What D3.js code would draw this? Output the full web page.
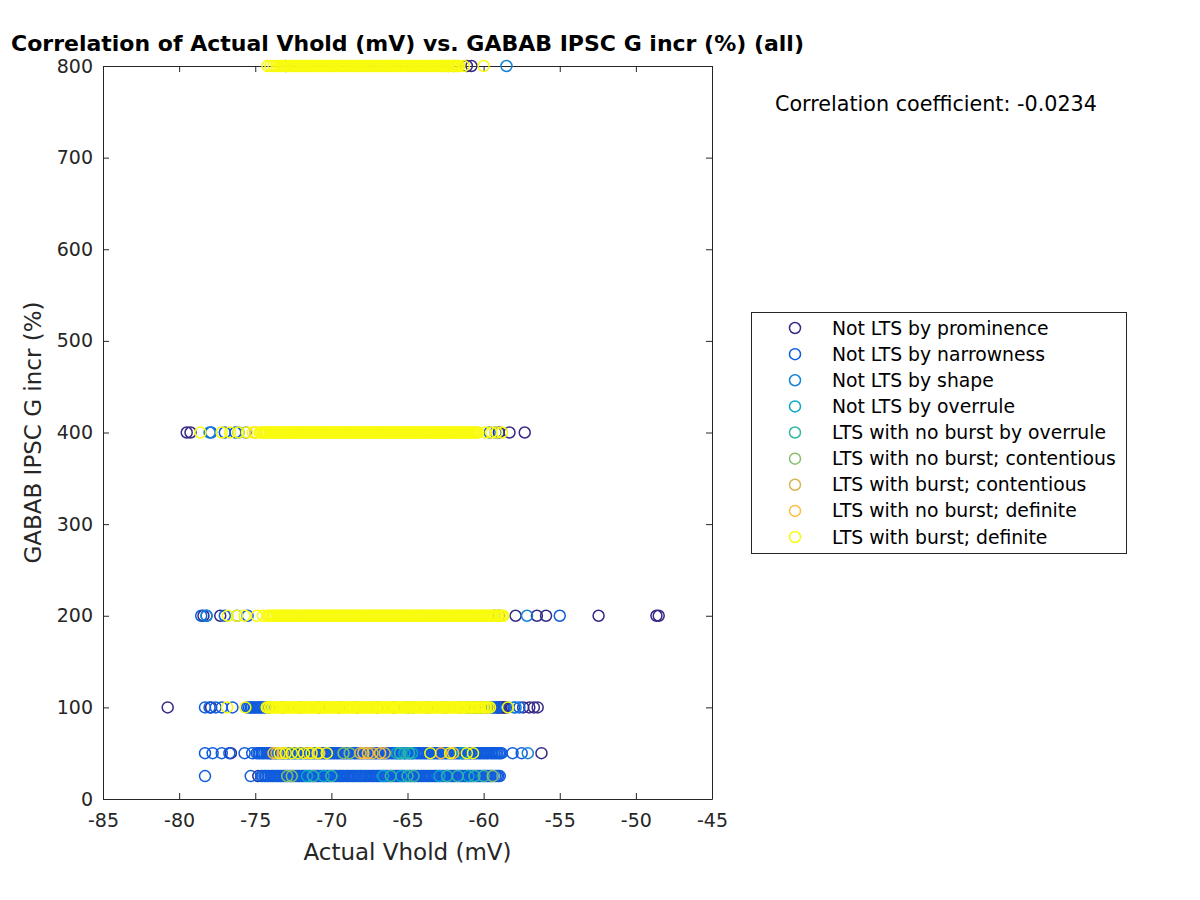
<!DOCTYPE html>
<html><head><meta charset="utf-8">
<script src="https://cdn.jsdelivr.net/npm/d3@7"></script>
<style>body{margin:0;background:#fff} svg{display:block} text{font-family:"DejaVu Sans",sans-serif}</style>
</head><body><svg id="c" width="1200" height="900"></svg>
<script>
const categories = ["Not LTS by prominence","Not LTS by narrowness","Not LTS by shape","Not LTS by overrule","LTS with no burst by overrule","LTS with no burst; contentious","LTS with burst; contentious","LTS with no burst; definite","LTS with burst; definite"];
const xTicks = [-85,-80,-75,-70,-65,-60,-55,-50,-45];
const yTicks = [0,100,200,300,400,500,600,700,800];
const titleText = "Correlation of Actual Vhold (mV) vs. GABAB IPSC G incr (%) (all)";
const corrText = "Correlation coefficient: -0.0234";

// each series: [G incr level (%), [Vhold values (mV)]]
const sProminence = [
 [800,[-61.1,-60.8]],
 [400,[-79.5,-79.25,-59.0,-58.3,-57.3]],
 [200,[-78.4,-77.3,-59.0,-57.9,-56.5,-55.9,-52.45,-48.65,-48.5]],
 [100,[-80.75,-77.9,-59.10,-59.00,-58.92,-58.83,-58.72,-58.64,-58.55,-57.4,-57.0,-56.7,-56.45]],
 [50,[-76.6,-74.0,-56.2]],
 [25,[-74.8]]
];
const sNarrowness = [
 [800,[-73.0]],
 [400,[-77.9,-77.0,-76.3,-75.6,-59.6,-59.2]],
 [200,[-78.55,-78.2,-77.0,-76.2,-75.5,-59.3,-55.0]],
 [100,[-78.3,-78.0,-77.6,-77.2,-76.5,-75.52,-75.41,-75.30,-75.22,-75.10,-75.01,-74.90,-74.78,-74.69,-74.60,-74.48,-74.40,-74.28,-74.17,-74.08,-73.2,-72.1,-70.8,-69.5,-68.3,-67.0,-65.9,-64.9,-63.7,-62.5,-61.6,-61.10,-60.98,-60.89,-60.77,-60.70,-60.58,-60.47,-60.39,-60.27,-60.18,-60.06,-59.97,-59.85,-59.76,-59.66,-59.54,-59.45,-59.33,-59.24,-59.12,-59.03,-58.0,-57.65]],
 [50,[-78.3,-77.8,-77.2,-76.7,-75.7,-75.2,
  -74.90,-74.79,-74.70,-74.58,-74.50,-74.40,-74.27,-74.18,-74.08,-73.97,-73.88,-73.76,-73.68,-73.58,-73.45,-73.36,-73.26,-73.15,-73.06,-72.94,-72.86,-72.76,-72.63,-72.54,-72.44,-72.33,-72.24,-72.12,-72.04,-71.94,-71.81,-71.72,-71.62,-71.51,-71.42,-71.30,-71.22,-71.12,-70.99,-70.90,-70.80,-70.69,-70.60,-70.48,-70.40,-70.30,-70.17,-70.08,-69.98,-69.87,-69.78,-69.66,-69.58,-69.48,-69.35,-69.26,-69.16,-69.05,-68.96,-68.84,-68.76,-68.66,-68.53,-68.44,-68.34,-68.23,-68.14,-68.02,-67.94,-67.84,-67.71,-67.62,-67.52,-67.41,-67.32,-67.20,-67.12,-67.02,-66.89,-66.80,-66.70,-66.59,-66.50,-66.38,-66.30,-66.20,-66.07,-65.98,-65.88,-65.77,-65.68,-65.56,-65.48,-65.38,-65.25,-65.16,-65.06,-64.95,-64.86,-64.74,-64.66,-64.56,-64.43,-64.34,-64.24,-64.13,-64.04,-63.92,-63.84,-63.74,-63.61,-63.52,-63.42,-63.31,-63.22,-63.10,-63.02,-62.92,-62.79,-62.70,-62.60,-62.49,-62.40,-62.28,-62.20,-62.10,-61.97,-61.88,-61.78,-61.67,-61.58,-61.46,-61.38,-61.28,-61.15,-61.06,-60.96,-60.85,-60.76,-60.64,-60.56,-60.46,-60.33,-60.24,-60.14,-60.03,-59.94,-59.82,-59.74,-59.64,-59.51,-59.42,-59.32,-59.21,-59.12,-59.00,-58.92,-58.82,
  -58.1,-57.5]],
 [25,[-78.3,-75.3,
  -74.62,-74.52,-74.40,-74.32,-74.21,-74.12,-73.99,-73.89,-73.80,-73.70,-73.58,-73.50,-73.39,-73.30,-73.17,-73.07,-72.98,-72.88,-72.76,-72.68,-72.57,-72.48,-72.35,-72.25,-72.16,-72.06,-71.94,-71.86,-71.75,-71.66,-71.53,-71.43,-71.34,-71.24,-71.12,-71.04,-70.93,-70.84,-70.71,-70.61,-70.52,-70.42,-70.30,-70.22,-70.11,-70.02,-69.89,-69.79,-69.70,-69.60,-69.48,-69.40,-69.29,-69.20,-69.07,-68.97,-68.88,-68.78,-68.66,-68.58,-68.47,-68.38,-68.25,-68.15,-68.06,-67.96,-67.84,-67.76,-67.65,-67.56,-67.43,-67.33,-67.24,-67.14,-67.02,-66.94,-66.83,-66.74,-66.61,-66.51,-66.42,-66.32,-66.20,-66.12,-66.01,-65.92,-65.79,-65.69,-65.60,-65.50,-65.38,-65.30,-65.19,-65.10,-64.97,-64.87,-64.78,-64.68,-64.56,-64.48,-64.37,-64.28,-64.15,-64.05,-63.96,-63.86,-63.74,-63.66,-63.55,-63.46,-63.33,-63.23,-63.14,-63.04,-62.92,-62.84,-62.73,-62.64,-62.51,-62.41,-62.32,-62.22,-62.10,-62.02,-61.91,-61.82,-61.69,-61.59,-61.50,-61.40,-61.28,-61.20,-61.09,-61.00,-60.87,-60.77,-60.68,-60.58,-60.46,-60.38,-60.27,-60.18,-60.05,-59.95,-59.86,-59.76,-59.64,-59.56,-59.45,-59.36,-59.23,-59.13,-59.04,-58.94]]
];
const sShape = [
 [800,[-58.5]],
 [400,[-78.0,-76.1]],
 [200,[-78.2,-57.15]],
 [100,[-58.4,-57.9]],
 [50,[-57.1]]
];
const sOverrule = [
 [100,[-65.0,-64.6]],
 [50,[-65.7,-65.2,-64.7,-61.4]],
 [25,[-71.6,-70.5,-66.6,-65.4,-62.9,-61.0]]
];
const sNoBurstOverrule = [
 [50,[-65.5,-64.9]],
 [25,[-71.2,-70.0,-66.1,-65.0,-64.6,-62.4,-61.7,-60.6,-60.0]]
];
const sNoBurstContentious = [
 [800,[-61.9]],
 [50,[-69.2,-68.8]],
 [25,[-72.9,-72.6,-59.4]]
];
const sBurstContentious = [
 [800,[-62.3]],
 [100,[-63.5]],
 [50,[-73.6,-68.1,-67.3,-66.5]]
];
const sNoBurstDefinite = [
 [800,[-62.6,-62.0,-61.7]],
 [400,[-75.0]],
 [100,[-62.6,-61.5,-60.8]],
 [50,[-73.8,-73.2,-71.5,-70.8,-67.9,-67.6,-66.8,-62.8,-62.0]]
];
const sBurstDefinite = [
 [800,[-74.2,-74.0,-73.8,-73.6,
  -73.40,-73.29,-73.20,-73.08,-73.00,-72.90,-72.77,-72.68,-72.58,-72.47,-72.38,-72.26,-72.18,-72.08,-71.95,-71.86,-71.76,-71.65,-71.56,-71.44,-71.36,-71.26,-71.13,-71.04,-70.94,-70.83,-70.74,-70.62,-70.54,-70.44,-70.31,-70.22,-70.12,-70.01,-69.92,-69.80,-69.72,-69.62,-69.49,-69.40,-69.30,-69.19,-69.10,-68.98,-68.90,-68.80,-68.67,-68.58,-68.48,-68.37,-68.28,-68.16,-68.08,-67.98,-67.85,-67.76,-67.66,-67.55,-67.46,-67.34,-67.26,-67.16,-67.03,-66.94,-66.84,-66.73,-66.64,-66.52,-66.44,-66.34,-66.21,-66.12,-66.02,-65.91,-65.82,-65.70,-65.62,-65.52,-65.39,-65.30,-65.20,-65.09,-65.00,-64.88,-64.80,-64.70,-64.57,-64.48,-64.38,-64.27,-64.18,-64.06,-63.98,-63.88,-63.75,-63.66,-63.56,-63.45,-63.36,-63.24,-63.16,-63.06,-62.93,-62.84,-62.74,-62.63,-62.54,-62.42,-62.34,-62.24,-62.11,-62.02,-61.92,-61.81,-61.72,-61.60,
  -61.3,-60.0]],
 [400,[-78.6,-77.2,-76.65,-76.1,-75.55,-75.15,
  -74.70,-74.60,-74.48,-74.40,-74.29,-74.20,-74.07,-73.97,-73.88,-73.78,-73.66,-73.58,-73.47,-73.38,-73.25,-73.15,-73.06,-72.96,-72.84,-72.76,-72.65,-72.56,-72.43,-72.33,-72.24,-72.14,-72.02,-71.94,-71.83,-71.74,-71.61,-71.51,-71.42,-71.32,-71.20,-71.12,-71.01,-70.92,-70.79,-70.69,-70.60,-70.50,-70.38,-70.30,-70.19,-70.10,-69.97,-69.87,-69.78,-69.68,-69.56,-69.48,-69.37,-69.28,-69.15,-69.05,-68.96,-68.86,-68.74,-68.66,-68.55,-68.46,-68.33,-68.23,-68.14,-68.04,-67.92,-67.84,-67.73,-67.64,-67.51,-67.41,-67.32,-67.22,-67.10,-67.02,-66.91,-66.82,-66.69,-66.59,-66.50,-66.40,-66.28,-66.20,-66.09,-66.00,-65.87,-65.77,-65.68,-65.58,-65.46,-65.38,-65.27,-65.18,-65.05,-64.95,-64.86,-64.76,-64.64,-64.56,-64.45,-64.36,-64.23,-64.13,-64.04,-63.94,-63.82,-63.74,-63.63,-63.54,-63.41,-63.31,-63.22,-63.12,-63.00,-62.92,-62.81,-62.72,-62.59,-62.49,-62.40,-62.30,-62.18,-62.10,-61.99,-61.90,-61.77,-61.67,-61.58,-61.48,-61.36,-61.28,-61.17,-61.08,-60.95,-60.85,-60.76,-60.66,-60.54,-60.46,-60.35,
  -59.9,-59.5,-59.15,-58.8]],
 [200,[-76.8,-76.2,-75.7,-74.9,-74.5,
  -74.20,-74.09,-74.00,-73.88,-73.80,-73.70,-73.57,-73.48,-73.38,-73.27,-73.18,-73.06,-72.98,-72.88,-72.75,-72.66,-72.56,-72.45,-72.36,-72.24,-72.16,-72.06,-71.93,-71.84,-71.74,-71.63,-71.54,-71.42,-71.34,-71.24,-71.11,-71.02,-70.92,-70.81,-70.72,-70.60,-70.52,-70.42,-70.29,-70.20,-70.10,-69.99,-69.90,-69.78,-69.70,-69.60,-69.47,-69.38,-69.28,-69.17,-69.08,-68.96,-68.88,-68.78,-68.65,-68.56,-68.46,-68.35,-68.26,-68.14,-68.06,-67.96,-67.83,-67.74,-67.64,-67.53,-67.44,-67.32,-67.24,-67.14,-67.01,-66.92,-66.82,-66.71,-66.62,-66.50,-66.42,-66.32,-66.19,-66.10,-66.00,-65.89,-65.80,-65.68,-65.60,-65.50,-65.37,-65.28,-65.18,-65.07,-64.98,-64.86,-64.78,-64.68,-64.55,-64.46,-64.36,-64.25,-64.16,-64.04,-63.96,-63.86,-63.73,-63.64,-63.54,-63.43,-63.34,-63.22,-63.14,-63.04,-62.91,-62.82,-62.72,-62.61,-62.52,-62.40,-62.32,-62.22,-62.09,-62.00,-61.90,-61.79,-61.70,-61.58,-61.50,-61.40,-61.27,-61.18,-61.08,-60.97,-60.88,-60.76,-60.68,-60.58,-60.45,-60.36,-60.26,-60.15,-60.06,-59.94,-59.86,-59.76,-59.63,-59.54,-59.44,-59.33,-59.24,-59.12,-59.04,-58.94,-58.81,-58.72]],
 [100,[-76.85,-75.65,
  -74.25,-74.15,-74.03,-73.95,-73.84,-73.75,-73.62,-73.52,-73.43,-73.33,-73.21,-73.13,-73.02,-72.93,-72.80,-72.70,-72.61,-72.51,-72.39,-72.31,-72.20,-72.11,-71.98,-71.88,-71.79,-71.69,-71.57,-71.49,-71.38,-71.29,-71.16,-71.06,-70.97,-70.87,-70.75,-70.67,-70.56,-70.47,-70.34,-70.24,-70.15,-70.05,-69.93,-69.85,-69.74,-69.65,-69.52,-69.42,-69.33,-69.23,-69.11,-69.03,-68.92,-68.83,-68.70,-68.60,-68.51,-68.41,-68.29,-68.21,-68.10,-68.01,-67.88,-67.78,-67.69,-67.59,-67.47,-67.39,-67.28,-67.19,-67.06,-66.96,-66.87,-66.77,-66.65,-66.57,-66.46,-66.37,-66.24,-66.14,-66.05,-65.95,-65.83,-65.75,-65.64,-65.55,-65.42,-65.32,-65.23,-65.13,-65.01,-64.93,-64.82,-64.73,-64.60,-64.50,-64.41,-64.31,-64.19,-64.11,-64.00,-63.91,-63.78,-63.68,-63.59,-63.49,-63.37,-63.29,-63.18,-63.09,-62.96,-62.86,-62.77,-62.67,-62.55,-62.47,-62.36,-62.27,-62.14,-62.04,-61.95,-61.85,-61.73,-61.65,-61.54,-61.45,-61.32,-61.22,-61.13,-61.03,-60.91,-60.83,-60.72,-60.63,-60.50,-60.40,-60.31,-60.21,-60.09,-60.01,-59.90,-59.81,-59.68,-59.58,
  -58.4]],
 [50,[-73.4,-73.0,-72.6,-72.2,-71.8,-71.3,-70.9,-70.3,-63.5,-62.2,-61.1,-60.7]]
];
const seriesData = [sProminence,sNarrowness,sShape,sOverrule,sNoBurstOverrule,sNoBurstContentious,sBurstContentious,sNoBurstDefinite,sBurstDefinite];
const palette = ["#352a87","#0f5cdd","#1482d6","#07a9c6","#33b8a1","#85bf6b","#d5b54f","#fdbd3c","#f9fb0e"];

const svg = d3.select("#c");
const L=103,R=712,T=66,B=799;
const x = d3.scaleLinear().domain([-85,-45]).range([L,R]);
const y = d3.scaleLinear().domain([0,800]).range([B,T]);
const axc = "#262626";
const tk = 6;

function styleAxis(g){
  g.selectAll("path").attr("stroke",axc);
  g.selectAll("line").attr("stroke",axc);
  g.selectAll("text").attr("fill",axc).style("font-size","19px").style("font-family","DejaVu Sans, sans-serif");
}
svg.append("g").attr("transform",`translate(0,${B})`)
  .call(d3.axisBottom(x).tickValues(xTicks).tickSizeInner(-tk).tickSizeOuter(0).tickPadding(15).tickFormat(d=>d))
  .call(styleAxis);
svg.append("g").attr("transform",`translate(0,${T})`)
  .call(d3.axisTop(x).tickValues(xTicks).tickSizeInner(-tk).tickSizeOuter(0).tickFormat(""))
  .call(styleAxis);
svg.append("g").attr("transform",`translate(${L},0)`)
  .call(d3.axisLeft(y).tickValues(yTicks).tickSizeInner(-tk).tickSizeOuter(0).tickPadding(10).tickFormat(d=>d))
  .call(styleAxis);
svg.append("g").attr("transform",`translate(${R},0)`)
  .call(d3.axisRight(y).tickValues(yTicks).tickSizeInner(-tk).tickSizeOuter(0).tickFormat(""))
  .call(styleAxis);
svg.selectAll(".domain").attr("fill","none");

// points
seriesData.forEach((ser,i)=>{
  const pts = [];
  ser.forEach(([lev,xs])=>xs.forEach(v=>pts.push([v,lev])));
  svg.append("g").selectAll("circle").data(pts).join("circle")
    .attr("cx",d=>x(d[0])).attr("cy",d=>y(d[1])).attr("r",5.5)
    .attr("fill","none").attr("stroke",palette[i]).attr("stroke-width",1.5);
});

// title & labels
svg.append("text").attr("x",(L+R)/2).attr("y",51).attr("text-anchor","middle")
  .style("font-size","22px").style("font-weight","bold").attr("fill","#000").text(titleText);
svg.append("text").attr("x",(L+R)/2).attr("y",860).attr("text-anchor","middle")
  .style("font-size","23px").attr("fill",axc).text("Actual Vhold (mV)");
svg.append("text").attr("transform",`translate(41,${(T+B)/2}) rotate(-90)`).attr("text-anchor","middle")
  .style("font-size","23px").attr("fill",axc).text("GABAB IPSC G incr (%)");
svg.append("text").attr("x",775).attr("y",111).style("font-size","20.7px").attr("fill","#000").text(corrText);

// legend
const lg = svg.append("g");
lg.append("rect").attr("x",751.5).attr("y",312.5).attr("width",375).attr("height",241)
  .attr("fill","#fff").attr("stroke",axc).attr("stroke-width",1);
const ly = d3.scalePoint().domain(categories).range([328,537]);
categories.forEach((c,i)=>{
  lg.append("circle").attr("cx",795).attr("cy",ly(c)).attr("r",5.5).attr("fill","none")
    .attr("stroke",palette[i]).attr("stroke-width",1.5);
  lg.append("text").attr("x",832).attr("y",ly(c)+6.5).style("font-size","18.8px").attr("fill","#000").text(c);
});
</script></body></html>
